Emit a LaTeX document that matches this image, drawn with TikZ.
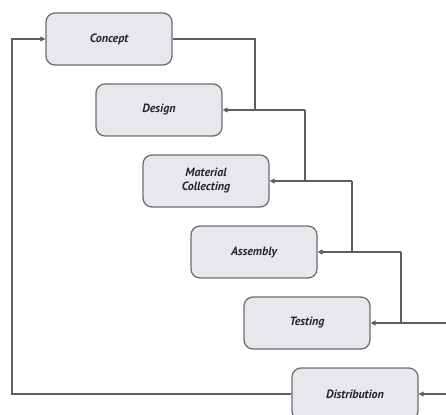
\documentclass[tikz,border=0pt]{standalone}
\usepackage{fontspec}
\setmainfont{PT Sans}
\usetikzlibrary{arrows.meta}
\definecolor{boxfill}{HTML}{E6E8EB}
\definecolor{boxline}{HTML}{6E6E6E}
\definecolor{wire}{HTML}{5E5E5E}
\tikzset{
  stage/.style={draw=boxline, line width=1.3pt, fill=boxfill, rounded corners=9pt,
    minimum width=126pt, minimum height=52pt, inner sep=0pt, align=center,
    font=\fontsize{12}{14}\selectfont\bfseries\itshape, text=black!85},
  wirel/.style={draw=wire, line width=1.2pt},
  arr/.style={wirel, -{Triangle[length=5pt,width=5pt]}}
}
\begin{document}
\begin{tikzpicture}[x=1pt,y=-1pt]
\useasboundingbox (0,0) rectangle (446,414);
\begin{scope}
\clip (0,0) rectangle (446,414);
\node[stage] (concept) at (109,39) {Concept};
\node[stage] (design) at (159,110) {Design};
\node[stage] (material) at (206,181) {Material\\Collecting};
\node[stage] (assembly) at (254,252) {Assembly};
\node[stage] (testing) at (307,323) {Testing};
\node[stage] (distribution) at (355,394) {Distribution};
\coordinate (c1) at (255,39);
\coordinate (h2) at (305,110);
\coordinate (h3) at (352,181);
\coordinate (h4) at (401,252);
\coordinate (in5) at (447,323);
\coordinate (in6) at (447,394);
\coordinate (lb) at (12,394);
\coordinate (lt) at (12,39);
\draw[wirel] (concept.east) -- (c1) -- (c1 |- design.east);
\draw[arr] (h2) -- (design.east);
\draw[wirel] (h2) -- (h2 |- material.east);
\draw[arr] (h3) -- (material.east);
\draw[wirel] (h3) -- (h3 |- assembly.east);
\draw[arr] (h4) -- (assembly.east);
\draw[wirel] (h4) -- (h4 |- testing.east);
\draw[arr] (in5) -- (testing.east);
\draw[arr] (in6) -- (distribution.east);
\draw[arr] (distribution.west) -- (lb) -- (lt) -- (concept.west);
\end{scope}
\end{tikzpicture}
\end{document}
